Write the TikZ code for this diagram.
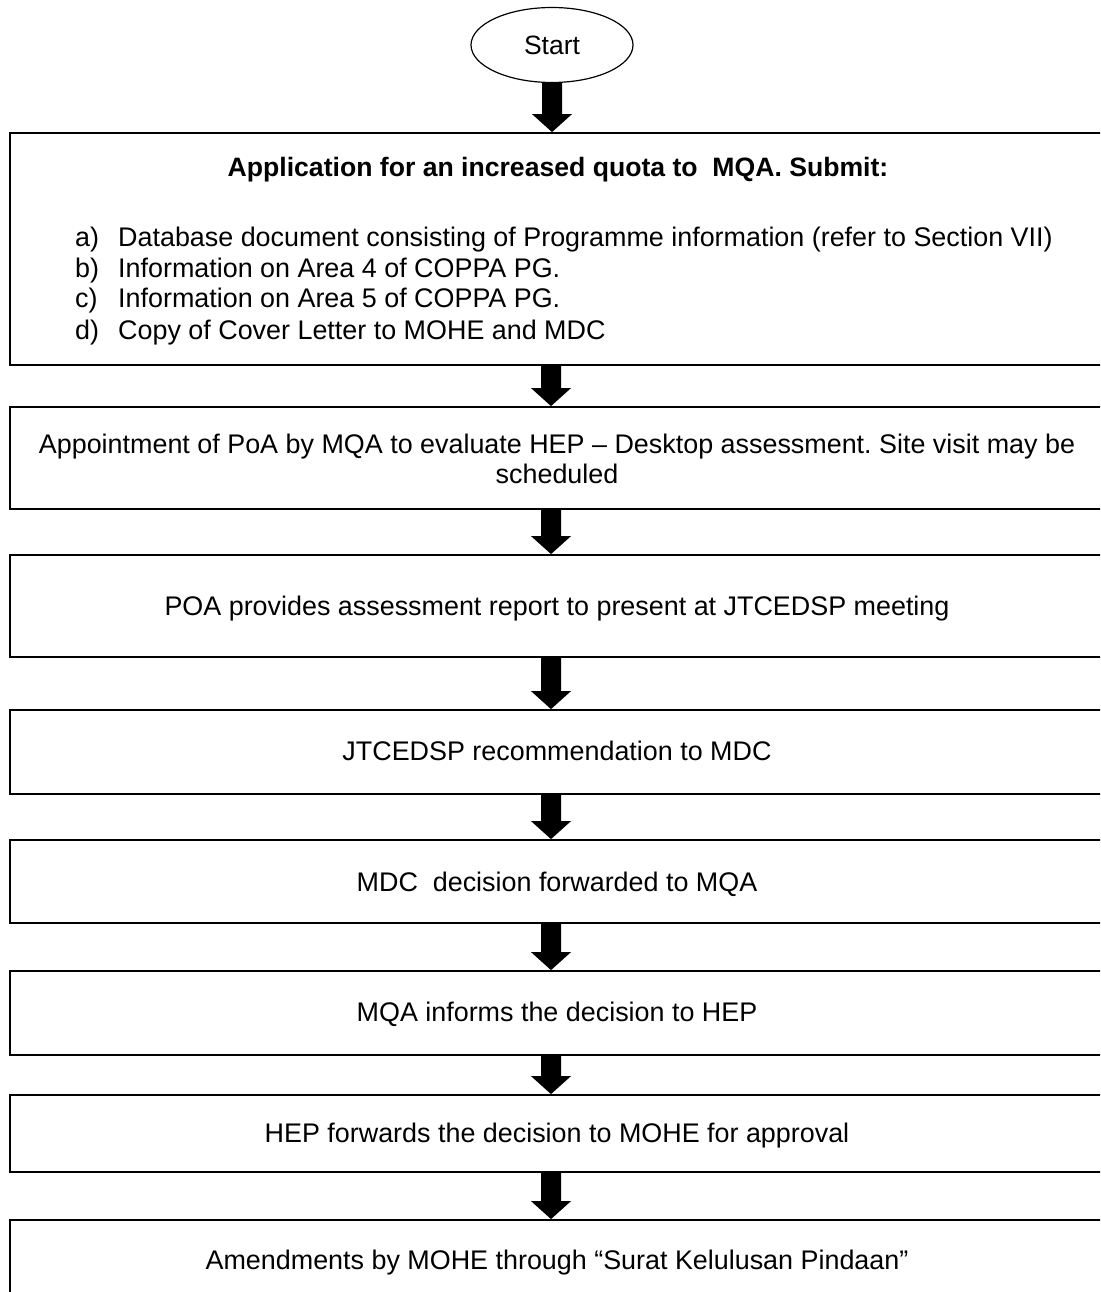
\documentclass[tikz,border=0pt]{standalone}
\usepackage{fontspec}
\setmainfont{Liberation Sans}
\usetikzlibrary{calc,shapes.geometric}
\frenchspacing
\newcommand\blockarrow[2]{%
  \fill let \p1=(#1), \p2=(#2) in
    (\x1-10pt,\y1) -- (\x1+10pt,\y1) -- (\x1+10pt,\y2+18pt) -- (\x1+20pt,\y2+18pt)
    -- (\x1,\y2) -- (\x1-20pt,\y2+18pt) -- (\x1-10pt,\y2+18pt) -- cycle;}
\begin{document}
\begin{tikzpicture}[x=1pt,y=-1pt,
  box/.style={draw,line width=1.8pt,minimum width=1094pt,inner sep=0pt,anchor=center},
  txt/.style={font=\fontsize{26.9}{31}\selectfont,inner sep=0pt,anchor=base}]
\useasboundingbox (0,0) rectangle (1100,1292);
\clip (0,0) rectangle (1100,1292);
\fill[white] (0,0) rectangle (1100,1292);

\node[draw,ellipse,line width=1.2pt,minimum width=162pt,minimum height=75pt,inner sep=0pt,font=\fontsize{26.5}{30}\selectfont] (start) at (552,45) {Start};

\node[box,minimum height=232pt] (b1) at (557,249) {};
\node[box,minimum height=102pt] (b2) at (557,458) {};
\node[box,minimum height=102pt] (b3) at (557,606) {};
\node[box,minimum height=84pt] (b4) at (557,752) {};
\node[box,minimum height=83pt] (b5) at (557,881.5) {};
\node[box,minimum height=84pt] (b6) at (557,1013) {};
\node[box,minimum height=77pt] (b7) at (557,1133.5) {};
\node[box,minimum height=80pt] (b8) at (557,1260) {};

\node[txt,font=\fontsize{26.6}{31}\selectfont\bfseries] (t1) at (558,176.5) {Application for an increased quota to~ MQA. Submit:};
\node[txt,anchor=base west] (la) at (75,246.5) {a)};
\node[txt,anchor=base west] (ta) at (118,246.5) {Database document consisting of Programme information (refer to Section VII)};
\node[txt,anchor=base west] (lb) at (75,277.5) {b)};
\node[txt,anchor=base west] (tb) at (118,277.5) {Information on Area 4 of COPPA PG.};
\node[txt,anchor=base west] (lc) at (75,307.5) {c)};
\node[txt,anchor=base west] (tc) at (118,307.5) {Information on Area 5 of COPPA PG.};
\node[txt,anchor=base west] (ld) at (75,339.5) {d)};
\node[txt,anchor=base west] (td) at (118,339.5) {Copy of Cover Letter to MOHE and MDC};

\node[txt] (t2a) at (557,453.5) {Appointment of PoA by MQA to evaluate HEP -- Desktop assessment. Site visit may be};
\node[txt] (t2b) at (557,483.5) {scheduled};
\node[txt] (t3) at (557,615.5) {POA provides assessment report to present at JTCEDSP meeting};
\node[txt] (t4) at (557,760.5) {JTCEDSP recommendation to MDC};
\node[txt] (t5) at (557,891.5) {MDC~ decision forwarded to MQA};
\node[txt] (t6) at (557,1021.5) {MQA informs the decision to HEP};
\node[txt] (t7) at (557,1142.5) {HEP forwards the decision to MOHE for approval};
\node[txt] (t8) at (557,1269.5) {Amendments by MOHE through “Surat Kelulusan Pindaan”};

\blockarrow{start.south}{start.south |- b1.north}
\blockarrow{[xshift=-6pt]b1.south}{[xshift=-6pt]b2.north}
\blockarrow{[xshift=-6pt]b2.south}{[xshift=-6pt]b3.north}
\blockarrow{[xshift=-6pt]b3.south}{[xshift=-6pt]b4.north}
\blockarrow{[xshift=-6pt]b4.south}{[xshift=-6pt]b5.north}
\blockarrow{[xshift=-6pt]b5.south}{[xshift=-6pt]b6.north}
\blockarrow{[xshift=-6pt]b6.south}{[xshift=-6pt]b7.north}
\blockarrow{[xshift=-6pt]b7.south}{[xshift=-6pt]b8.north}
\end{tikzpicture}
\end{document}
